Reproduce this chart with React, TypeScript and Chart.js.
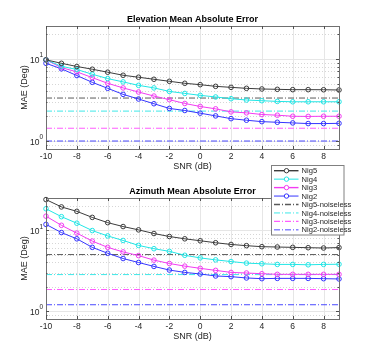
import React, { useEffect, useRef } from 'react';
import { Chart, registerables } from 'chart.js';
Chart.register(...registerables);

const snr = [-10, -9, -8, -7, -6, -5, -4, -3, -2, -1, 0, 1, 2, 3, 4, 5, 6, 7, 8, 9];
const seriesNames = ['Nig5', 'Nig4', 'Nig3', 'Nig2'];
const noiselessNames = ['Nig5-noiseless', 'Nig4-noiseless', 'Nig3-noiseless', 'Nig2-noiseless'];

const elevNig5 = [9.7, 8.8, 8.05, 7.46, 6.86, 6.3, 5.96, 5.63, 5.32, 5.03, 4.84, 4.62, 4.49, 4.37, 4.29, 4.25, 4.21, 4.21, 4.2, 4.17];
const elevNig4 = [9.7, 8.1, 7.4, 6.48, 5.74, 5.23, 4.75, 4.42, 4.01, 3.79, 3.59, 3.43, 3.27, 3.15, 3.09, 3.03, 3.0, 3.0, 3.0, 3.0];
const elevNig3 = [9.7, 7.8, 6.93, 5.9, 5.03, 4.42, 3.94, 3.52, 3.18, 2.86, 2.63, 2.46, 2.26, 2.2, 2.1, 2.06, 2.0, 1.99, 2.0, 2.0];
const elevNig2 = [8.8, 7.54, 6.25, 5.17, 4.37, 3.69, 3.24, 2.84, 2.49, 2.35, 2.18, 2.02, 1.87, 1.79, 1.72, 1.69, 1.66, 1.63, 1.63, 1.64];
const elevNoiseless = [3.33, 2.31, 1.43, 1.0];

const aziNig5 = [23.9, 19.4, 17.1, 14.4, 12.4, 11.1, 10.1, 9.1, 8.36, 7.83, 7.41, 7.0, 6.67, 6.44, 6.26, 6.2, 6.14, 6.08, 6.03, 6.1];
const aziNig4 = [18.4, 14.7, 12.2, 9.9, 8.5, 7.47, 6.49, 5.91, 5.48, 4.9, 4.55, 4.3, 4.1, 3.92, 3.85, 3.78, 3.78, 3.74, 3.78, 3.8];
const aziNig3 = [14.9, 11.5, 9.2, 7.34, 6.14, 5.39, 4.86, 4.27, 3.88, 3.6, 3.38, 3.19, 3.01, 2.96, 2.9, 2.85, 2.85, 2.85, 2.85, 2.85];
const aziNig2 = [11.8, 9.35, 7.83, 6.14, 5.19, 4.47, 3.99, 3.57, 3.22, 3.01, 2.88, 2.72, 2.67, 2.57, 2.52, 2.54, 2.54, 2.54, 2.52, 2.5];
const aziNoiseless = [5.0, 2.83, 1.85, 1.2];

const xTicks = [-10, -8, -6, -4, -2, 0, 2, 4, 6, 8];
const yMajorTicks = [1, 10];
const yTickExponents = ['0', '1'];
const yMinorTicks = [0.9, 2, 3, 4, 5, 6, 7, 8, 9, 20];
const xMin = -10, xMax = 9, yMin = 0.8, yMax = 25;

const lineColors = ['#3c3c3c', '#22e6e6', '#f23cf2', '#3535ff'];
const noiselessColors = ['#5a5a5a', '#3ee8e8', '#ff5cff', '#4a4aff'];
const FONT = '"Liberation Sans", Arial, Helvetica, sans-serif';
const DASH = [6, 2, 1, 2];

function makeAxesPlugin(title: string, withLegend: boolean) {
  return {
    id: 'matlabAxes',
    beforeDatasetsDraw(chart: any) {
      const ctx = chart.ctx;
      const { left, right, top, bottom } = chart.chartArea;
      const xs = chart.scales.x, ys = chart.scales.y;
      ctx.save();
      ctx.lineWidth = 1;
      ctx.strokeStyle = '#e6e6e6';
      xTicks.forEach((t) => {
        const px = Math.round(xs.getPixelForValue(t)) + 0.5;
        ctx.beginPath(); ctx.moveTo(px, top); ctx.lineTo(px, bottom); ctx.stroke();
      });
      yMajorTicks.forEach((t) => {
        const py = Math.round(ys.getPixelForValue(t)) + 0.5;
        ctx.beginPath(); ctx.moveTo(left, py); ctx.lineTo(right, py); ctx.stroke();
      });
      ctx.strokeStyle = '#d6d6d6';
      ctx.setLineDash([1, 2]);
      yMinorTicks.forEach((t) => {
        if (t <= yMin || t >= yMax) return;
        const py = Math.round(ys.getPixelForValue(t)) + 0.5;
        ctx.beginPath(); ctx.moveTo(left, py); ctx.lineTo(right, py); ctx.stroke();
      });
      ctx.restore();
    },
    afterDraw(chart: any) {
      const ctx = chart.ctx;
      const { left, right, top, bottom } = chart.chartArea;
      const xs = chart.scales.x, ys = chart.scales.y;
      ctx.save();
      // box
      ctx.strokeStyle = '#707070';
      ctx.lineWidth = 1;
      ctx.strokeRect(Math.round(left) + 0.5, Math.round(top) + 0.5, Math.round(right - left), Math.round(bottom - top));
      // ticks
      ctx.strokeStyle = '#505050';
      xTicks.forEach((t) => {
        const px = Math.round(xs.getPixelForValue(t)) + 0.5;
        ctx.beginPath();
        ctx.moveTo(px, bottom); ctx.lineTo(px, bottom - 3);
        ctx.moveTo(px, top); ctx.lineTo(px, top + 3);
        ctx.stroke();
      });
      yMajorTicks.forEach((t) => {
        const py = Math.round(ys.getPixelForValue(t)) + 0.5;
        ctx.beginPath();
        ctx.moveTo(left, py); ctx.lineTo(left + 3, py);
        ctx.moveTo(right, py); ctx.lineTo(right - 3, py);
        ctx.stroke();
      });
      yMinorTicks.forEach((t) => {
        if (t <= yMin || t >= yMax) return;
        const py = Math.round(ys.getPixelForValue(t)) + 0.5;
        ctx.beginPath();
        ctx.moveTo(left, py); ctx.lineTo(left + 1.5, py);
        ctx.moveTo(right, py); ctx.lineTo(right - 1.5, py);
        ctx.stroke();
      });
      // x tick labels
      ctx.fillStyle = '#262626';
      ctx.font = `8.5px ${FONT}`;
      ctx.textAlign = 'center';
      ctx.textBaseline = 'middle';
      xTicks.forEach((t) => {
        ctx.fillText(String(t), xs.getPixelForValue(t), bottom + 7.5);
      });
      // y tick labels with superscript
      yMajorTicks.forEach((t, i) => {
        const py = ys.getPixelForValue(t);
        ctx.font = `6.5px ${FONT}`;
        ctx.textAlign = 'left';
        const supW = ctx.measureText(yTickExponents[i]).width;
        const supX = left - 3 - supW;
        ctx.fillText(yTickExponents[i], supX, py - 3.5);
        ctx.font = `8.5px ${FONT}`;
        ctx.textAlign = 'right';
        ctx.fillText('10', supX, py + 1.5);
      });
      // axis titles
      ctx.font = `9px ${FONT}`;
      ctx.textAlign = 'center';
      ctx.fillText('SNR (dB)', (left + right) / 2, bottom + 17.5);
      ctx.save();
      ctx.translate(25, (top + bottom) / 2);
      ctx.rotate(-Math.PI / 2);
      ctx.fillText('MAE (Deg)', 0, 0);
      ctx.restore();
      // title
      ctx.fillStyle = '#000000';
      ctx.font = `bold 9px ${FONT}`;
      ctx.fillText(title, (left + right) / 2, top - 6.5);

      if (withLegend) {
        const bx = 271.5, by = 5.5, bw = 72.5, bh = 69.5;
        ctx.fillStyle = '#ffffff';
        ctx.fillRect(bx, by, bw, bh);
        ctx.strokeStyle = '#808080';
        ctx.lineWidth = 1;
        ctx.strokeRect(bx, by, bw, bh);
        const names = [...seriesNames, ...noiselessNames];
        names.forEach((name, k) => {
          const cy = by + 5.2 + k * 8.45;
          const isNoise = k >= 4;
          const idx = k % 4;
          const col = isNoise ? noiselessColors[idx] : lineColors[idx];
          ctx.strokeStyle = col;
          ctx.lineWidth = (idx === 0 || idx === 2) ? 1.4 : 1;
          ctx.setLineDash(isNoise ? DASH : []);
          ctx.beginPath(); ctx.moveTo(274, cy); ctx.lineTo(298.5, cy); ctx.stroke();
          ctx.setLineDash([]);
          if (!isNoise) {
            ctx.lineWidth = 1;
            ctx.fillStyle = '#ffffff';
            ctx.beginPath(); ctx.arc(286.5, cy, 2.2, 0, Math.PI * 2); ctx.fill(); ctx.stroke();
          }
          ctx.fillStyle = '#262626';
          ctx.font = `7.6px ${FONT}`;
          ctx.textAlign = 'left';
          ctx.textBaseline = 'middle';
          ctx.fillText(name, 301.5, cy + 0.5);
        });
      }
      ctx.restore();
    },
  };
}

function buildDatasets(series: number[][], noiseless: number[]) {
  const main = series.map((vals, i) => ({
    label: seriesNames[i],
    data: snr.map((x, j) => ({ x, y: vals[j] })),
    borderColor: lineColors[i],
    borderWidth: 1,
    pointRadius: 2.3,
    pointStyle: 'circle',
    pointBackgroundColor: 'rgba(255,255,255,0)',
    pointBorderColor: lineColors[i],
    pointBorderWidth: 1,
    fill: false,
    tension: 0,
    clip: false,
  }));
  const flat = noiseless.map((v, i) => ({
    label: noiselessNames[i],
    data: [{ x: xMin, y: v }, { x: xMax, y: v }],
    borderColor: noiselessColors[i],
    borderWidth: 1,
    borderDash: DASH,
    pointRadius: 0,
    fill: false,
    tension: 0,
  }));
  return [...main, ...flat];
}

function Panel(props: { title: string; series: number[][]; noiseless: number[]; withLegend: boolean; top: number; height: number; pad: { top: number; bottom: number } }) {
  const ref = useRef<HTMLCanvasElement>(null);
  useEffect(() => {
    if (!ref.current) return;
    const chart = new Chart(ref.current, {
      type: 'line',
      data: { datasets: buildDatasets(props.series, props.noiseless) as any },
      options: {
        animation: false,
        responsive: false,
        devicePixelRatio: 1,
        events: [],
        layout: { padding: { left: 46, right: 35, top: props.pad.top, bottom: props.pad.bottom } },
        plugins: { legend: { display: false }, title: { display: false }, tooltip: { enabled: false } },
        scales: {
          x: { type: 'linear', min: xMin, max: xMax, display: false },
          y: { type: 'logarithmic', min: yMin, max: yMax, display: false },
        },
      } as any,
      plugins: [makeAxesPlugin(props.title, props.withLegend)],
    });
    return () => chart.destroy();
  }, []);
  return (
    <canvas
      ref={ref}
      width={374}
      height={props.height}
      style={{ position: 'absolute', left: 0, top: props.top, width: 374, height: props.height }}
    />
  );
}

export default function App() {
  return (
    <div style={{ position: 'fixed', left: 0, top: 0, width: 374, height: 360, background: '#ffffff' }}>
      <Panel
        title="Elevation Mean Absolute Error"
        series={[elevNig5, elevNig4, elevNig3, elevNig2]}
        noiseless={elevNoiseless}
        withLegend={false}
        top={0}
        height={180}
        pad={{ top: 26, bottom: 31 }}
      />
      <Panel
        title="Azimuth Mean Absolute Error"
        series={[aziNig5, aziNig4, aziNig3, aziNig2]}
        noiseless={aziNoiseless}
        withLegend={true}
        top={160}
        height={200}
        pad={{ top: 38, bottom: 41 }}
      />
    </div>
  );
}
